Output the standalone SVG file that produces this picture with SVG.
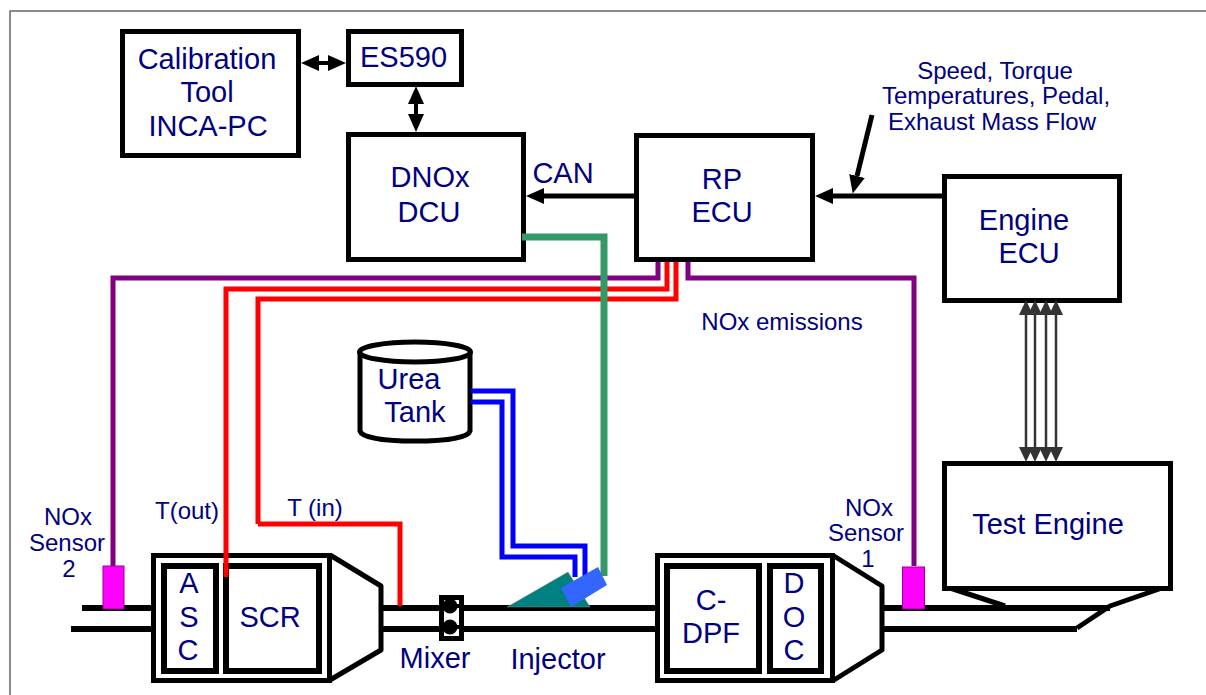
<svg xmlns="http://www.w3.org/2000/svg" width="1206" height="695" viewBox="0 0 1206 695">
<style>
text{font-family:"Liberation Sans",Arial,sans-serif;fill:#000080;font-size:29px;text-anchor:middle}
.s{font-size:24px}
.b{fill:#fff;stroke:#000;stroke-width:5}
.i{fill:#fff;stroke:#000;stroke-width:6}
.p{fill:none;stroke:#000;stroke-width:6}
.c{fill:none;stroke:#000;stroke-width:5;stroke-linejoin:round}
.w{fill:none;stroke-width:5;stroke-linejoin:miter}
.t{stroke:#333;stroke-width:2.5;fill:none}
.sensor{fill:#f0f;stroke:#909;stroke-width:1}
</style>
<defs>
<marker id="h" markerUnits="userSpaceOnUse" markerWidth="20" markerHeight="16" refX="0" refY="8" orient="auto-start-reverse"><path d="M0 0L18 8L0 16Z" fill="#000"/></marker>
<marker id="g" markerUnits="userSpaceOnUse" markerWidth="16" markerHeight="14" refX="0" refY="7" orient="auto-start-reverse"><path d="M0 0L15 7L0 14Z" fill="#333"/></marker>
</defs>
<rect width="1206" height="695" fill="#fff"/>
<path id="frame" d="M10 695V11H1206" fill="none" stroke="#666" stroke-width="1.5"/>
<g id="pipes">
<path class="p" d="M82 608H152M71 629H152M381 608H655M381 629H655M882 608H1110M882 629H1077"/>
<path class="c" d="M950 588L1005 606M1162 588L1110 606L1077 628"/>
</g>
<g id="calibration-tool"><rect class="b" x="122.500" y="31.500" width="176" height="124"/><text x="207" y="69">Calibration</text><text x="207" y="102">Tool</text><text x="208" y="136">INCA-PC</text></g>
<g id="es590"><rect class="b" x="348.500" y="31.500" width="113" height="53"/><text x="403.500" y="67">ES590</text></g>
<g id="dcu"><rect class="b" x="348.500" y="134.500" width="175" height="125"/><text x="430" y="187">DNOx</text><text x="429" y="222">DCU</text></g>
<g id="rp-ecu"><rect class="b" x="636.500" y="135.500" width="176" height="124"/><text x="722" y="189">RP</text><text x="722" y="222">ECU</text></g>
<g id="engine-ecu"><rect class="b" x="944.500" y="176.500" width="175" height="124"/><text x="1024" y="230">Engine</text><text x="1029" y="263">ECU</text></g>
<g id="test-engine"><rect class="b" x="944.500" y="463.500" width="226" height="125"/><text x="1048" y="534">Test Engine</text></g>
<g id="urea-tank">
<path class="b" d="M360 352V431C362 438 385 441 415 441C445 441 468 438 470 431V352"/>
<ellipse class="b" cx="415" cy="352" rx="55.500" ry="10"/>
<text x="409" y="389">Urea</text><text x="415" y="422">Tank</text>
</g>
<g id="scr-unit">
<path class="c" d="M330 555L381 586V650L330 680"/>
<rect class="b" x="153.500" y="555.500" width="176" height="125"/>
<rect class="i" x="164" y="566" width="52" height="105"/>
<rect class="i" x="226" y="566" width="93" height="105"/>
<text x="189" y="593">A</text><text x="189" y="627">S</text><text x="188" y="660">C</text><text x="270" y="627">SCR</text>
</g>
<g id="dpf-unit">
<path class="c" d="M834 556L882 586V650L834 680"/>
<rect class="b" x="657.500" y="555.500" width="175" height="125"/>
<rect class="i" x="667" y="566" width="92" height="105"/>
<rect class="i" x="770" y="566" width="51" height="105"/>
<text x="711" y="610">C-</text><text x="711" y="643">DPF</text>
<text x="794" y="593">D</text><text x="794" y="627">O</text><text x="794" y="660">C</text>
</g>
<g id="mixer">
<rect class="b" x="441.500" y="597.500" width="20" height="41"/>
<circle cx="450" cy="606" r="7.500"/><circle cx="450" cy="627" r="7.500"/>
<path d="M456 604H459V608H456ZM456 625H459V629H456Z"/>
<text x="435" y="668">Mixer</text>
</g>
<g id="nox-sensor-2"><text class="s" x="68" y="525">NOx</text><text class="s" x="67" y="551">Sensor</text><text class="s" x="69" y="577">2</text></g>
<g id="nox-sensor-1"><text class="s" x="869" y="516">NOx</text><text class="s" x="866" y="541">Sensor</text><text class="s" x="868" y="567">1</text></g>
<g id="connectors">
<path class="w" stroke="#800080" d="M113 566V278H658V262M688 262V278H914V566"/>
<path class="w" stroke="#f00" d="M226 577V289H667V262M258 524V299H676V262M258 524H400V606"/>
<path class="w" stroke="#00f" d="M471 391H513V546H585V577M471 402H502V557H575V577"/>
<path fill="none" stroke="#396" stroke-width="7" d="M522 237H604V576"/>
<path class="c" marker-end="url(#h)" d="M634 196H544"/>
<path class="c" marker-end="url(#h)" d="M942 196H833"/>
<path class="c" stroke-width="4" marker-end="url(#h)" d="M872 115L857 176"/>
<path fill="none" stroke="#000" stroke-width="4" marker-start="url(#h)" marker-end="url(#h)" d="M319 63H328"/>
<path fill="none" stroke="#000" stroke-width="4" marker-start="url(#h)" marker-end="url(#h)" d="M416 104V114"/>
<path class="t" marker-start="url(#g)" marker-end="url(#g)" d="M1026 315V447"/>
<path class="t" marker-start="url(#g)" marker-end="url(#g)" d="M1035 315V447"/>
<path class="t" marker-start="url(#g)" marker-end="url(#g)" d="M1046 315V447"/>
<path class="t" marker-start="url(#g)" marker-end="url(#g)" d="M1056 315V447"/>
</g>
<rect class="sensor" x="103" y="566" width="21" height="43"/>
<rect class="sensor" x="902.500" y="567" width="22" height="42"/>
<g id="injector">
<path d="M507 607L568 572L590 607Z" fill="#008080" stroke="#888" stroke-width="0.500"/>
<path d="M598 567L607 585L571 607L561 588Z" fill="#36f"/>
<text x="558" y="669">Injector</text>
</g>
<g id="labels">
<text x="563" y="183">CAN</text>
<text class="s" x="995" y="79">Speed, Torque</text>
<text class="s" x="996" y="104">Temperatures, Pedal,</text>
<text class="s" x="992" y="130">Exhaust Mass Flow</text>
<text class="s" x="782" y="330">NOx emissions</text>
<text class="s" x="187" y="519">T(out)</text>
<text class="s" x="315" y="516">T (in)</text>
</g>
</svg>
